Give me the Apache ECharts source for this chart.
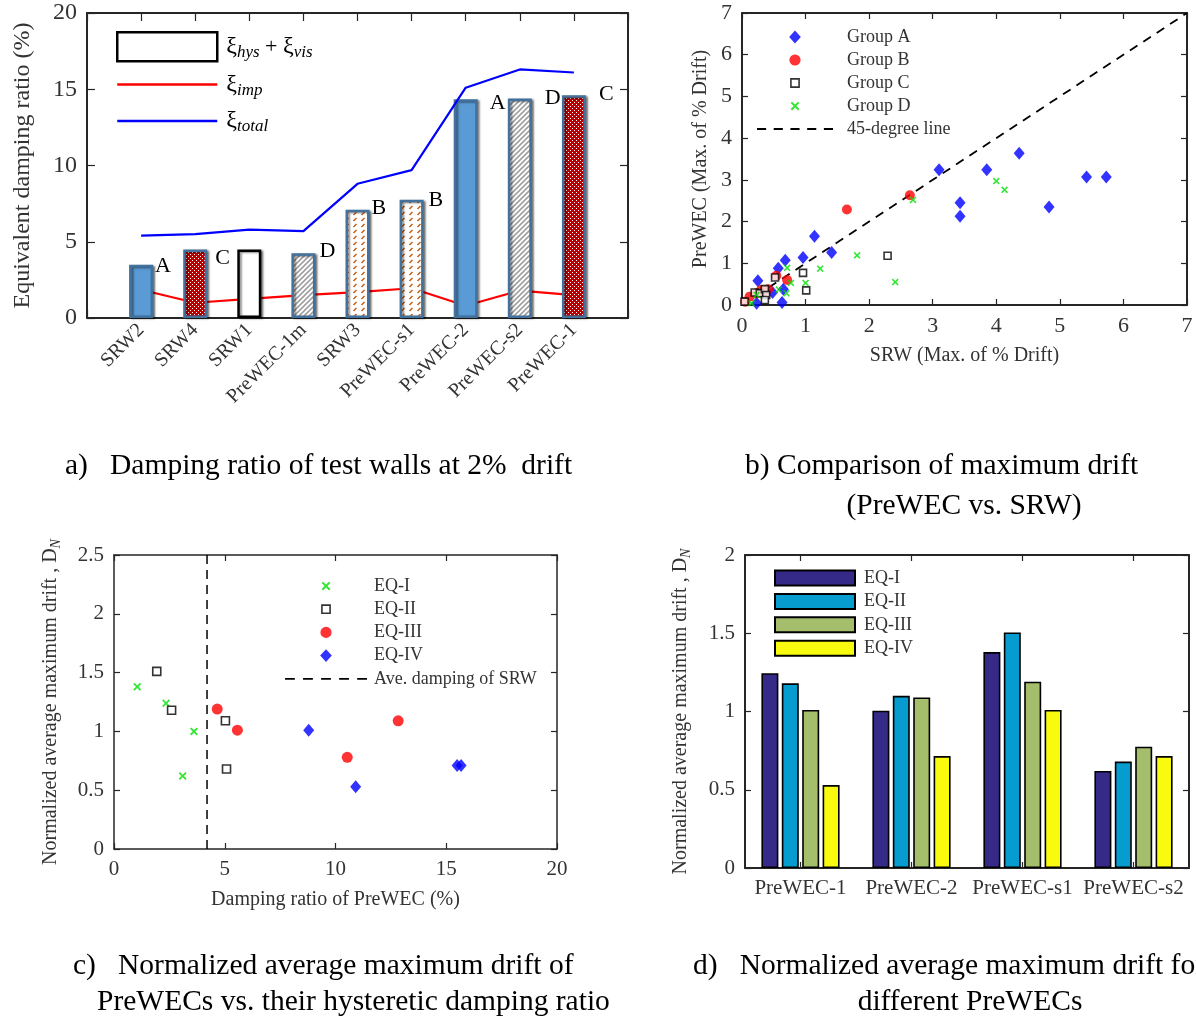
<!DOCTYPE html>
<html><head><meta charset="utf-8">
<script src="https://cdn.jsdelivr.net/npm/echarts@6/dist/echarts.min.js"></script>
<style>html,body{margin:0;padding:0;background:#fff}#chart{width:1196px;height:1021px}</style>
</head><body><div id="chart"></div>
<script>
// ---------------- DATA ----------------
// Panel a
const aWalls = ['SRW2','SRW4','SRW1','PreWEC-1m','SRW3','PreWEC-s1','PreWEC-2','PreWEC-s2','PreWEC-1'];
const aHysVis = [3.5, 4.5, 4.5, 4.25, 7.1, 7.75, 14.35, 14.4, 14.6];
const aImp    = [1.85, 1.0, 1.25, 1.5, 1.7, 1.95, 0.8, 1.8, 1.5];
const aTotal  = [5.4, 5.5, 5.8, 5.7, 8.8, 9.7, 15.1, 16.3, 16.1];
const aGroups = ['A','C','','D','B','B','A','D','C'];
const aYTicks = [0, 5, 10, 15, 20];
// Panel b  [SRW, PreWEC]
const bGroupA = [[4.36,3.64],[3.10,3.24],[3.85,3.24],[5.42,3.07],[5.73,3.07],[3.43,2.45],[3.43,2.13],[4.83,2.35],[1.14,1.65],[1.41,1.26],[0.96,1.14],[0.68,1.07],[0.57,0.88],[0.25,0.58],[0.48,0.30],[0.65,0.38],[0.63,0.06],[0.23,0.04]];
const bGroupB = [[2.64,2.63],[1.65,2.29],[0.71,0.60],[0.54,0.70],[0.05,0.08],[0.12,0.20],[0.23,0.28],[0.30,0.36],[0.41,0.38],[0.34,0.33]];
const bGroupC = [[2.29,1.18],[0.96,0.77],[1.01,0.35],[0.52,0.66],[0.04,0.08],[0.20,0.30],[0.28,0.28],[0.36,0.38],[0.38,0.24],[0.36,0.12]];
const bGroupD = [[4.00,2.97],[4.13,2.76],[2.69,2.52],[1.81,1.19],[1.23,0.87],[2.41,0.55],[0.71,0.89],[0.77,0.53],[1.00,0.53],[0.58,0.37],[0.70,0.28],[0.15,0.04],[0.23,0.24]];
const bLine45 = [[0,0],[7,7]];
// Panel c  [damping %, D_N]
const cEQ1 = [[1.05,1.38],[2.35,1.24],[3.61,1.00],[3.10,0.62]];
const cEQ2 = [[1.93,1.51],[2.60,1.18],[5.03,1.09],[5.08,0.68]];
const cEQ3 = [[4.66,1.19],[5.57,1.01],[12.83,1.09],[10.53,0.78]];
const cEQ4 = [[8.79,1.01],[10.91,0.53],[15.49,0.71],[15.67,0.71]];
const cAveSRW = 4.2;
// Panel d
const dWalls = ['PreWEC-1','PreWEC-2','PreWEC-s1','PreWEC-s2'];
const dEQ1 = [1.245, 1.005, 1.38, 0.62];
const dEQ2 = [1.18, 1.10, 1.505, 0.68];
const dEQ3 = [1.01, 1.09, 1.19, 0.775];
const dEQ4 = [0.53, 0.715, 1.01, 0.715];
const eqNames = ['EQ-I','EQ-II','EQ-III','EQ-IV'];

// ---------------- STYLE / BUILD ----------------
const FONT = 'Liberation Serif';
const AXC = '#262626';
const TXT = '#333';

function pat(w, h, draw) {
  const c = document.createElement('canvas'); c.width = w; c.height = h;
  const g = c.getContext('2d'); draw(g, w, h);
  return { image: c, repeat: 'repeat' };
}
const checker = pat(4, 4, g => { g.fillStyle = '#B80000'; g.fillRect(0,0,4,4); g.fillStyle = '#fff'; g.fillRect(0,0,1,1); g.fillRect(2,2,1,1); });
const greyHatch = pat(5, 5, g => {
  g.fillStyle = '#fff'; g.fillRect(0,0,5,5); g.strokeStyle = '#A0A0A0'; g.lineWidth = 1.6;
  g.beginPath(); g.moveTo(-1,6); g.lineTo(6,-1); g.moveTo(-1,1); g.lineTo(1,-1); g.moveTo(4,6); g.lineTo(6,4); g.stroke();
});
const orangeHatch = pat(8, 6, g => {
  g.fillStyle = '#fff'; g.fillRect(0,0,8,6); g.strokeStyle = '#C55A11'; g.lineWidth = 1.4;
  g.beginPath(); g.moveTo(1.5,5); g.lineTo(4.5,2); g.stroke();
});
const edge = '#41719C';
const looks = {
  solid:  { color: '#5B9BD5', borderColor: edge, borderWidth: 2.5 },
  check:  { color: checker, borderColor: edge, borderWidth: 2.5 },
  open:   { color: '#fff', borderColor: '#000', borderWidth: 2.5 },
  grey:   { color: greyHatch, borderColor: edge, borderWidth: 2.5 },
  orange: { color: orangeHatch, borderColor: edge, borderWidth: 2.5 }
};
const aLook = ['solid','check','open','grey','orange','orange','solid','grey','check'];
const aLabDx = [2, 8, 0, 4, 2, 5, 12, 13, 13];
const aLabDy = [2, 9, 0, -1.5, -1.5, 0, 4.5, 0, -1];
const A_BW = 24;

// X marker path (size s, offset o)
function xPath(s, o) {
  const k = s / 10, P = (x, y) => (o + x * k).toFixed(2) + ',' + (o + y * k).toFixed(2);
  return 'M' + P(0,1.6) + ' L' + P(1.6,0) + ' L' + P(5,3.4) + ' L' + P(8.4,0) + ' L' + P(10,1.6) + ' L' + P(6.6,5) + ' L' + P(10,8.4) +
         ' L' + P(8.4,10) + ' L' + P(5,6.6) + ' L' + P(1.6,10) + ' L' + P(0,8.4) + ' L' + P(3.4,5) + ' Z';
}
const xMark = 'path://' + xPath(10, 0);
function lineIcon(w, th) { return 'path://M0,0 L' + w + ',0 L' + w + ',' + th + ' L0,' + th + ' Z'; }
function dashIcon(w, dash, gap, th) {
  let p = '';
  for (let x = 0; x < w; x += dash + gap) { const e = Math.min(x + dash, w); p += 'M' + x + ',0 L' + e + ',0 L' + e + ',' + th + ' L' + x + ',' + th + ' Z '; }
  return 'path://' + p;
}
// legend marker icons inside a 12x12 box (corner points keep the box size)
const BOX = ' M0,0 Z M12,12 Z';
const diamondIcon = 'path://M6,0.5 L11,6 L6,11.5 L1,6 Z' + BOX;
const circleIcon = 'path://M1.2,6 A4.8,4.8 0 1 1 10.8,6 A4.8,4.8 0 1 1 1.2,6 Z' + BOX;
const squareIcon = 'path://M2.5,2.5 L9.5,2.5 L9.5,9.5 L2.5,9.5 Z' + BOX;
const xIcon = 'path://' + xPath(7.5, 2.25) + BOX;

function ax(gridIndex, position, extra, lw, tickLen) {
  return Object.assign({
    gridIndex, position,
    axisLine: { show: true, onZero: false, lineStyle: { color: AXC, width: lw } },
    axisTick: { show: true, inside: true, length: tickLen, lineStyle: { color: AXC, width: 1.2 } },
    axisLabel: { show: false },
    splitLine: { show: false }
  }, extra);
}
function lbl(fs, extra) {
  return Object.assign({ show: true, fontFamily: FONT, fontSize: fs, color: TXT, showMinLabel: true, showMaxLabel: true }, extra || {});
}
const dnName = 'Normalized average maximum drift , D{n|N}';
const dnStyle = { fontFamily: FONT, fontSize: 20, color: TXT, rich: { n: { fontFamily: FONT, fontSize: 14, fontStyle: 'italic', color: TXT, padding: [10,0,0,0] } } };

const grids = [
  { left: 87,  top: 13,  width: 541, height: 305, outerBoundsMode: 'none' },
  { left: 742, top: 13,  width: 445, height: 292, outerBoundsMode: 'none' },
  { left: 114, top: 555, width: 443, height: 294, outerBoundsMode: 'none' },
  { left: 745, top: 555, width: 444, height: 313, outerBoundsMode: 'none' }
];

const xAxes = [
  ax(0, 'bottom', { type: 'value', min: 0, max: 10, interval: 1,
    axisLabel: lbl(20, { rotate: 45, margin: 9, formatter: v => aWalls[v - 1] || '' }) }, 2, 8),
  ax(0, 'top', { type: 'value', min: 0, max: 10, interval: 1 }, 2, 8),
  ax(1, 'bottom', { type: 'value', min: 0, max: 7, interval: 1, axisLabel: lbl(22, { margin: 10 }),
    name: 'SRW (Max. of % Drift)', nameLocation: 'middle', nameGap: 41, nameTextStyle: { fontFamily: FONT, fontSize: 20, color: TXT } }, 2, 6),
  ax(1, 'top', { type: 'value', min: 0, max: 7, interval: 1 }, 2, 6),
  ax(2, 'bottom', { type: 'value', min: 0, max: 20, interval: 5, axisLabel: lbl(21, { margin: 10 }),
    name: 'Damping ratio of PreWEC (%)', nameLocation: 'middle', nameGap: 41, nameTextStyle: { fontFamily: FONT, fontSize: 20, color: TXT } }, 1.5, 6),
  ax(2, 'top', { type: 'value', min: 0, max: 20, interval: 5 }, 1.5, 6),
  ax(3, 'bottom', { type: 'category', data: dWalls, axisLabel: lbl(21, { margin: 10, interval: 0 }),
    axisTick: { show: true, inside: true, alignWithLabel: true, length: 6, lineStyle: { color: AXC, width: 1.2 } } }, 2, 6),
  ax(3, 'top', { type: 'category', data: dWalls,
    axisTick: { show: true, inside: true, alignWithLabel: true, length: 6, lineStyle: { color: AXC, width: 1.2 } } }, 2, 6)
];
const yAxes = [
  ax(0, 'left', { type: 'value', min: aYTicks[0], max: aYTicks[aYTicks.length - 1], interval: 5, axisLabel: lbl(24, { margin: 10 }),
    name: 'Equivalent damping ratio (%)', nameLocation: 'middle', nameGap: 52, nameTextStyle: { fontFamily: FONT, fontSize: 24, color: TXT } }, 2, 8),
  ax(0, 'right', { type: 'value', min: 0, max: 20, interval: 5 }, 2, 8),
  ax(1, 'left', { type: 'value', min: 0, max: 7, interval: 1, axisLabel: lbl(22, { margin: 10 }),
    name: 'PreWEC (Max. of % Drift)', nameLocation: 'middle', nameGap: 31, nameTextStyle: { fontFamily: FONT, fontSize: 20, color: TXT } }, 2, 6),
  ax(1, 'right', { type: 'value', min: 0, max: 7, interval: 1 }, 2, 6),
  ax(2, 'left', { type: 'value', min: 0, max: 2.5, interval: 0.5, axisLabel: lbl(21, { margin: 10 }),
    name: dnName, nameLocation: 'middle', nameGap: 51, nameTextStyle: dnStyle }, 1.5, 6),
  ax(2, 'right', { type: 'value', min: 0, max: 2.5, interval: 0.5 }, 1.5, 6),
  ax(3, 'left', { type: 'value', min: 0, max: 2, interval: 0.5, axisLabel: lbl(21, { margin: 10 }),
    name: dnName, nameLocation: 'middle', nameGap: 52, nameTextStyle: dnStyle }, 2, 6),
  ax(3, 'right', { type: 'value', min: 0, max: 2, interval: 0.5 }, 2, 6)
];

const series = [];
// ---- panel a
series.push({
  name: 'imp', type: 'line', xAxisIndex: 0, yAxisIndex: 0, z: 1, symbol: 'none',
  lineStyle: { color: '#FF0000', width: 2.2 }, itemStyle: { color: '#FF0000' },
  data: aImp.map((v, i) => [i + 1, v])
});
series.push({
  name: 'hysvis', type: 'bar', xAxisIndex: 0, yAxisIndex: 0, z: 2, barWidth: A_BW,
  itemStyle: { color: '#fff', borderColor: '#000', borderWidth: 2.5 },
  data: aHysVis.map((v, i) => ({
    value: [i + 1, v],
    itemStyle: Object.assign({ shadowColor: 'rgba(0,0,0,0.45)', shadowBlur: 2, shadowOffsetX: 2, shadowOffsetY: 1 }, looks[aLook[i]]),
    label: { show: !!aGroups[i], formatter: aGroups[i], position: [A_BW + aLabDx[i], aLabDy[i]], align: 'left', verticalAlign: 'middle',
             fontFamily: FONT, fontSize: 22, color: '#000' }
  }))
});
series.push({
  name: 'total', type: 'line', xAxisIndex: 0, yAxisIndex: 0, z: 3, symbol: 'none',
  lineStyle: { color: '#0000FF', width: 2.2 }, itemStyle: { color: '#0000FF' },
  data: aTotal.map((v, i) => [i + 1, v])
});
// ---- panel b
series.push({ name: '45-degree line', type: 'line', xAxisIndex: 2, yAxisIndex: 2, z: 1, symbol: 'none',
  lineStyle: { color: '#000', width: 1.8, type: [9, 7] }, itemStyle: { color: '#000' }, data: bLine45 });
series.push({ name: 'Group A', type: 'scatter', xAxisIndex: 2, yAxisIndex: 2, z: 3, clip: false, symbolKeepAspect: true,
  symbol: 'diamond', symbolSize: [11, 13], itemStyle: { color: '#0000FF' }, data: bGroupA });
series.push({ name: 'Group B', type: 'scatter', xAxisIndex: 2, yAxisIndex: 2, z: 3, clip: false,
  symbol: 'circle', symbolSize: 10, itemStyle: { color: '#FF0000' }, data: bGroupB });
series.push({ name: 'Group C', type: 'scatter', xAxisIndex: 2, yAxisIndex: 2, z: 4, clip: false, symbolKeepAspect: true,
  symbol: 'rect', symbolSize: 7, itemStyle: { color: '#fff', borderColor: '#000', borderWidth: 1.6 }, data: bGroupC });
series.push({ name: 'Group D', type: 'scatter', xAxisIndex: 2, yAxisIndex: 2, z: 5, clip: false,
  symbol: xMark, symbolSize: 7, itemStyle: { color: '#00E000' }, data: bGroupD });
// ---- panel c
series.push({ name: 'Ave. damping of SRW', type: 'line', xAxisIndex: 4, yAxisIndex: 4, z: 1, symbol: 'none',
  lineStyle: { color: '#000', width: 1.5, type: [9, 6] }, itemStyle: { color: '#000' },
  data: [[cAveSRW, 0], [cAveSRW, 2.5]] });
series.push({ name: 'EQ-I', type: 'scatter', xAxisIndex: 4, yAxisIndex: 4, z: 3, clip: false,
  symbol: xMark, symbolSize: 8, itemStyle: { color: '#00E000' }, data: cEQ1 });
series.push({ name: 'EQ-II', type: 'scatter', xAxisIndex: 4, yAxisIndex: 4, z: 3, clip: false, symbolKeepAspect: true,
  symbol: 'rect', symbolSize: 8, itemStyle: { color: '#fff', borderColor: '#000', borderWidth: 1.6 }, data: cEQ2 });
series.push({ name: 'EQ-III', type: 'scatter', xAxisIndex: 4, yAxisIndex: 4, z: 3, clip: false,
  symbol: 'circle', symbolSize: 11, itemStyle: { color: '#FF0000' }, data: cEQ3 });
series.push({ name: 'EQ-IV', type: 'scatter', xAxisIndex: 4, yAxisIndex: 4, z: 3, clip: false, symbolKeepAspect: true,
  symbol: 'diamond', symbolSize: [11, 13], itemStyle: { color: '#0000FF' }, data: cEQ4 });
// ---- panel d
const dColors = ['#352A87', '#079CCF', '#A5BE6B', '#F9FB0E'];
[dEQ1, dEQ2, dEQ3, dEQ4].forEach((arr, k) => {
  series.push({ name: 'd:' + eqNames[k], type: 'bar', xAxisIndex: 6, yAxisIndex: 6, barWidth: 17, barGap: '20%',
    itemStyle: { color: dColors[k], borderColor: '#000', borderWidth: 1.6 }, data: arr });
});

const aLegendText = { hysvis: '{x|ξ}{s|hys}{p| + }{x|ξ}{s|vis}', imp: '{x|ξ}{s|imp}', total: '{x|ξ}{s|total}' };
const legends = [
  { left: 116, top: 31, padding: 0, orient: 'vertical', itemWidth: 100, itemHeight: 29, itemGap: 10, selectedMode: false, symbolKeepAspect: true,
    data: [
      { name: 'hysvis', icon: lineIcon(100, 29), itemStyle: { color: '#fff', borderColor: '#000', borderWidth: 2.5 } },
      { name: 'imp', icon: lineIcon(100, 2.4), itemStyle: { color: '#FF0000', borderWidth: 0 } },
      { name: 'total', icon: lineIcon(100, 2.4), itemStyle: { color: '#0000FF', borderWidth: 0 } }
    ],
    formatter: n => aLegendText[n],
    textStyle: { fontFamily: FONT, fontSize: 24, color: '#000', padding: [0, 0, 0, 4], rich: {
      x: { fontFamily: FONT, fontSize: 24, color: '#000' },
      p: { fontFamily: FONT, fontSize: 22, color: '#000' },
      s: { fontFamily: FONT, fontSize: 17, fontStyle: 'italic', color: '#000', padding: [12, 0, 0, 0] } } } },
  { left: 757, top: 27, padding: 0, orient: 'vertical', itemWidth: 76, itemHeight: 14, itemGap: 3, selectedMode: false, symbolKeepAspect: true,
    data: [
      { name: 'Group A', icon: diamondIcon, itemStyle: { color: '#0000FF', borderWidth: 0 } },
      { name: 'Group B', icon: circleIcon, itemStyle: { color: '#FF0000', borderWidth: 0 } },
      { name: 'Group C', icon: squareIcon, itemStyle: { color: '#fff', borderColor: '#000', borderWidth: 1.6 } },
      { name: 'Group D', icon: xIcon, itemStyle: { color: '#00E000', borderWidth: 0 } },
      { name: '45-degree line', icon: dashIcon(76, 9, 7.5, 1.8), itemStyle: { color: '#000', borderWidth: 0 } }
    ],
    textStyle: { fontFamily: FONT, fontSize: 18, color: TXT, lineHeight: 20, padding: [0, 0, 0, 9] } },
  { left: 285, top: 576, padding: 0, orient: 'vertical', itemWidth: 82, itemHeight: 14, itemGap: 3.2, selectedMode: false, symbolKeepAspect: true,
    data: [
      { name: 'EQ-I', icon: xIcon, itemStyle: { color: '#00E000', borderWidth: 0 } },
      { name: 'EQ-II', icon: squareIcon, itemStyle: { color: '#fff', borderColor: '#000', borderWidth: 1.6 } },
      { name: 'EQ-III', icon: circleIcon, itemStyle: { color: '#FF0000', borderWidth: 0 } },
      { name: 'EQ-IV', icon: diamondIcon, itemStyle: { color: '#0000FF', borderWidth: 0 } },
      { name: 'Ave. damping of SRW', icon: dashIcon(82, 9, 7.5, 1.6), itemStyle: { color: '#000', borderWidth: 0 } }
    ],
    textStyle: { fontFamily: FONT, fontSize: 18, color: TXT, lineHeight: 20, padding: [0, 0, 0, 2] } },
  { left: 774, top: 569, padding: 0, orient: 'vertical', itemWidth: 80, itemHeight: 15, itemGap: 5.4, selectedMode: false,
    data: eqNames.map(n => ({ name: 'd:' + n, icon: 'rect' })),
    formatter: n => n.replace('d:', ''),
    textStyle: { fontFamily: FONT, fontSize: 18, color: TXT, lineHeight: 18, padding: [0, 0, 0, 4] } }
];

function cap(text, x, y, align) {
  return { type: 'text', x: x, y: y, style: { text: text, fontFamily: FONT, fontSize: 29.5, fill: '#000', align: align || 'left', verticalAlign: 'middle' } };
}
const graphic = [
  cap('a)   Damping ratio of test walls at 2%  drift', 65, 466),
  cap('b) Comparison of maximum drift', 745, 466),
  cap('(PreWEC vs. SRW)', 964, 506, 'center'),
  cap('c)   Normalized average maximum drift of', 73, 966),
  cap('PreWECs vs. their hysteretic damping ratio', 97, 1002),
  cap('d)   Normalized average maximum drift for', 693, 966),
  cap('different PreWECs', 970, 1002, 'center')
];

const chart = echarts.init(document.getElementById('chart'), null, { renderer: 'canvas', width: 1196, height: 1021 });
chart.setOption({
  animation: false,
  backgroundColor: '#fff',
  grid: grids, xAxis: xAxes, yAxis: yAxes, series: series, legend: legends, graphic: graphic,
  tooltip: { show: false }
});
</script></body></html>
